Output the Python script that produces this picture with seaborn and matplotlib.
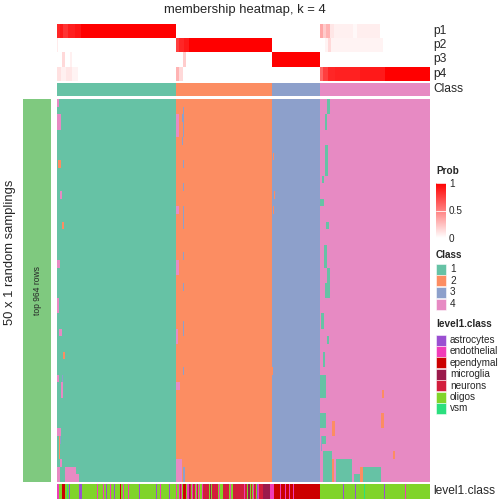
import numpy as np
import matplotlib
matplotlib.use("Agg")
import matplotlib.pyplot as plt
from matplotlib.colors import ListedColormap, LinearSegmentedColormap
from matplotlib.patches import Rectangle
import seaborn as sns

sns.set_style("white")
plt.rcParams['font.family'] = ['Liberation Sans', 'DejaVu Sans']

# ---- data ----
classes = [1, 2, 3, 4]
class_sizes = [119, 96, 48, 110]          # samples per consensus class
class_colors = ["#66C2A5", "#FC8D62", "#8DA0CB", "#E78AC3"]
n_rows = 50                                # 50 x 1 random samplings

# membership deviations: (row_from, row_to, col_from, col_to, class)
patches = [
    (0, 0, 0, 1, 4), (2, 3, 0, 3, 4), (8, 8, 1, 3, 2), (12, 12, 3, 4, 4),
    (16, 16, 5, 6, 2), (21, 21, 0, 2, 4), (26, 27, 0, 1, 4), (30, 30, 2, 4, 4),
    (33, 33, 6, 7, 2), (36, 36, 0, 1, 4), (36, 36, 5, 5, 3), (37, 38, 4, 5, 4),
    (43, 43, 0, 3, 4), (44, 46, 2, 2, 2), (44, 44, 3, 3, 3), (47, 47, 3, 4, 4),
    (48, 49, 0, 2, 4), (48, 49, 8, 18, 4), (49, 49, 19, 21, 4),
    (2, 4, 119, 121, 4), (14, 14, 119, 121, 4), (21, 22, 119, 121, 4),
    (30, 31, 119, 120, 4), (37, 37, 119, 122, 4), (47, 49, 119, 124, 4),
    (1, 1, 126, 126, 3), (2, 2, 125, 126, 3), (3, 4, 126, 126, 3),
    (5, 5, 125, 125, 3), (8, 8, 126, 126, 3), (11, 11, 126, 126, 3),
    (14, 16, 126, 126, 3), (20, 20, 126, 126, 3), (24, 24, 126, 126, 3),
    (29, 30, 126, 126, 3), (35, 35, 126, 126, 3), (48, 49, 126, 127, 3),
    (7, 7, 216, 216, 2), (12, 12, 217, 217, 2), (14, 14, 216, 216, 2),
    (35, 35, 215, 215, 2),
    (0, 1, 270, 272, 1), (2, 3, 268, 269, 1), (6, 9, 268, 270, 1),
    (10, 10, 265, 266, 1), (13, 13, 263, 266, 1), (16, 16, 269, 271, 1),
    (19, 21, 267, 269, 1), (22, 23, 270, 272, 1), (24, 25, 268, 272, 1),
    (28, 29, 264, 266, 1), (31, 31, 270, 271, 1), (33, 34, 266, 267, 1),
    (36, 38, 263, 268, 1), (41, 42, 263, 268, 1), (44, 44, 265, 268, 1),
    (44, 45, 264, 264, 3), (46, 49, 266, 274, 1), (47, 49, 279, 294, 1),
    (48, 49, 306, 323, 1), (49, 49, 297, 302, 1),
    (42, 43, 275, 277, 2), (47, 49, 275, 276, 2), (48, 49, 303, 305, 2),
    (38, 38, 325, 326, 2), (41, 42, 324, 326, 2), (46, 46, 336, 337, 2),
]

# membership probabilities: (col_from, col_to, value)
p1_segments = [(0, 2, 0.85), (3, 5, 0.9), (6, 10, 0.8), (11, 17, 0.88), (18, 23, 0.92),
               (24, 118, 1.0), (263, 265, 0.35), (266, 268, 0.2), (269, 272, 0.3),
               (273, 276, 0.1), (277, 295, 0.06), (296, 299, 0.03), (300, 322, 0.07)]
p2_segments = [(0, 0, 0.08), (119, 121, 0.75), (122, 126, 0.85), (127, 131, 0.9),
               (132, 214, 1.0), (268, 270, 0.05), (271, 273, 0.15), (274, 325, 0.05)]
p3_segments = [(5, 7, 0.15), (13, 14, 0.06), (126, 128, 0.2), (215, 262, 1.0)]
p4_segments = [(0, 3, 0.12), (4, 8, 0.06), (9, 14, 0.1), (15, 20, 0.05),
               (119, 121, 0.3), (122, 125, 0.15), (263, 265, 0.6), (266, 270, 0.75),
               (271, 277, 0.85), (278, 302, 0.87), (303, 327, 0.9), (328, 372, 1.0)]

level1_names = ["astrocytes", "endothelial", "ependymal", "microglia", "neurons", "oligos", "vsm"]
level1_colors = ["#9A4FD1", "#F03CB8", "#CC0000", "#9B1A4B", "#D21E3C", "#80D42A", "#2BDF7E"]
level1_runs = [
    ("endothelial", 2), ("oligos", 3), ("ependymal", 3), ("oligos", 2), ("vsm", 1),
    ("oligos", 1), ("astrocytes", 1), ("oligos", 9), ("astrocytes", 3), ("oligos", 15),
    ("endothelial", 1), ("oligos", 5), ("endothelial", 1), ("oligos", 2), ("astrocytes", 1),
    ("oligos", 3), ("endothelial", 1), ("oligos", 3), ("astrocytes", 1), ("oligos", 5),
    ("ependymal", 1), ("oligos", 2), ("endothelial", 1), ("oligos", 4), ("endothelial", 1),
    ("oligos", 10), ("astrocytes", 1), ("oligos", 16), ("astrocytes", 1), ("oligos", 3),
    ("endothelial", 1), ("oligos", 8), ("astrocytes", 1), ("oligos", 6),
    ("endothelial", 1), ("oligos", 2), ("endothelial", 1), ("neurons", 1), ("endothelial", 1),
    ("oligos", 1), ("ependymal", 3), ("oligos", 1), ("endothelial", 2), ("microglia", 1),
    ("neurons", 1), ("oligos", 1), ("endothelial", 1), ("neurons", 2), ("oligos", 1),
    ("endothelial", 1), ("neurons", 1), ("oligos", 1), ("endothelial", 1), ("oligos", 2),
    ("endothelial", 1), ("neurons", 6), ("oligos", 1), ("microglia", 1), ("oligos", 1),
    ("neurons", 6), ("oligos", 1), ("endothelial", 1), ("oligos", 3), ("neurons", 6),
    ("oligos", 1), ("endothelial", 1), ("oligos", 2), ("neurons", 11), ("endothelial", 1),
    ("neurons", 2), ("oligos", 1), ("microglia", 2), ("oligos", 1), ("neurons", 1),
    ("oligos", 1), ("endothelial", 1), ("neurons", 2), ("oligos", 1), ("astrocytes", 1),
    ("endothelial", 1), ("neurons", 4), ("microglia", 7), ("endothelial", 2),
    ("endothelial", 2), ("ependymal", 6), ("endothelial", 1), ("ependymal", 4),
    ("endothelial", 1), ("ependymal", 3), ("endothelial", 1), ("ependymal", 3),
    ("endothelial", 1), ("ependymal", 26),
    ("oligos", 23), ("astrocytes", 1), ("oligos", 11), ("astrocytes", 1), ("oligos", 8),
    ("vsm", 1), ("oligos", 19), ("astrocytes", 1), ("oligos", 20), ("endothelial", 1),
    ("oligos", 24),
]

# ---- build matrices ----
col_class = np.repeat(classes, class_sizes)
n_cols = len(col_class)
member = np.tile(col_class, (n_rows, 1))
for r0, r1, c0, c1, k in patches:
    member[r0:r1 + 1, c0:c1 + 1] = k

prob = np.zeros((4, n_cols))
for i, segs in enumerate([p1_segments, p2_segments, p3_segments, p4_segments]):
    for c0, c1, v in segs:
        prob[i, c0:c1 + 1] = v

level1 = np.concatenate([[level1_names.index(nm)] * cnt for nm, cnt in level1_runs])

# ---- layout (pixel boxes) ----
W = H = 504
fig = plt.figure(figsize=(7, 7), dpi=72)


def box(x0, y0, x1, y1):
    return [x0 / W, 1 - y1 / H, (x1 - x0) / W, (y1 - y0) / H]


X0, X1 = 57, 430
white_red = LinearSegmentedColormap.from_list("wr", ["#FFFFFF", "#FF0000"])
class_cmap = ListedColormap(class_colors)
level_cmap = ListedColormap(level1_colors)

ax_p = fig.add_axes(box(X0, 24, X1, 81))
sns.heatmap(prob, ax=ax_p, cmap=white_red, vmin=0, vmax=1, cbar=False,
            xticklabels=False, yticklabels=False)

ax_c = fig.add_axes(box(X0, 83, X1, 96))
sns.heatmap(col_class[None, :], ax=ax_c, cmap=class_cmap, vmin=0.5, vmax=4.5,
            cbar=False, xticklabels=False, yticklabels=False)

ax_m = fig.add_axes(box(X0, 99, X1, 482))
sns.heatmap(member, ax=ax_m, cmap=class_cmap, vmin=0.5, vmax=4.5, cbar=False,
            xticklabels=False, yticklabels=False)

ax_l = fig.add_axes(box(X0, 484, X1, 499))
sns.heatmap(level1[None, :], ax=ax_l, cmap=level_cmap, vmin=-0.5, vmax=6.5,
            cbar=False, xticklabels=False, yticklabels=False)

# left split bar
ax_s = fig.add_axes(box(23, 99, 51, 482))
ax_s.set_facecolor("#7FC97F")
ax_s.set_xticks([])
ax_s.set_yticks([])
for sp in ax_s.spines.values():
    sp.set_visible(False)
ax_s.text(0.5, 0.5, "top 964 rows", rotation=90, ha="center", va="center",
          fontsize=8.5, transform=ax_s.transAxes)

# colour bar for Prob
ax_cb = fig.add_axes(box(436, 183, 446, 238))
cb = fig.colorbar(ax_p.collections[0], cax=ax_cb, ticks=[0, 0.5, 1])
cb.outline.set_visible(False)
cb.ax.set_yticklabels(["0", "0.5", "1"], fontsize=10)
cb.ax.tick_params(length=0, pad=3)
for v in [0.5, 1]:
    ax_cb.axhline(v, color="white", lw=0.8)

# text overlay
ax_t = fig.add_axes([0, 0, 1, 1])
ax_t.set_xlim(0, W)
ax_t.set_ylim(H, 0)
ax_t.axis("off")
ax_t.text(245, 10, "membership heatmap, k = 4", ha="center", va="center", fontsize=13)
ax_t.text(10, 252, "50 x 1 random samplings", rotation=90, ha="center", va="center",
          fontsize=13)
for lab, y in zip(["p1", "p2", "p3", "p4", "Class"], [31, 45, 59, 74, 89]):
    ax_t.text(433, y, lab, ha="left", va="center", fontsize=12)
ax_t.text(433, 491, "level1.class", ha="left", va="center", fontsize=12)

ax_t.text(436, 171, "Prob", ha="left", va="center", fontsize=10, fontweight="bold")
ax_t.text(436, 255, "Class", ha="left", va="center", fontsize=10, fontweight="bold")
for i, (k, col) in enumerate(zip(classes, class_colors)):
    y = 269 + i * 11.7
    ax_t.add_patch(Rectangle((436, y - 5.5), 10, 11, facecolor=col, edgecolor="white", lw=0.5))
    ax_t.text(450, y, str(k), ha="left", va="center", fontsize=10)

ax_t.text(436, 324, "level1.class", ha="left", va="center", fontsize=10, fontweight="bold")
for i, (nm, col) in enumerate(zip(level1_names, level1_colors)):
    y = 340 + i * 11.4
    ax_t.add_patch(Rectangle((436, y - 5.5), 10, 11, facecolor=col, edgecolor="white", lw=0.5))
    ax_t.text(450, y, nm, ha="left", va="center", fontsize=10)

fig.savefig("out.png", dpi=72)
